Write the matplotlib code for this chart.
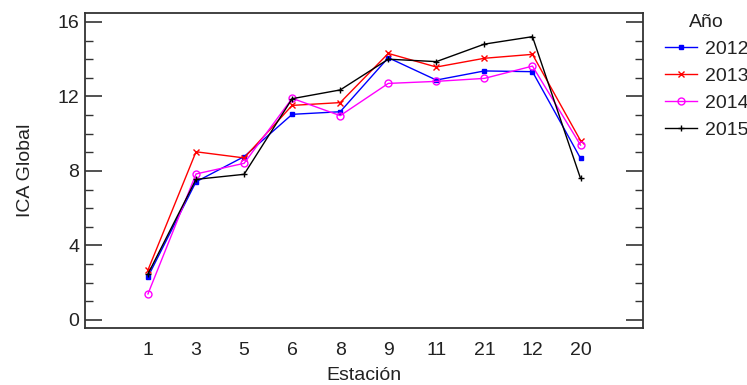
import matplotlib
matplotlib.use("Agg")
import matplotlib.pyplot as plt
from matplotlib.ticker import MultipleLocator

stations = ["1", "3", "5", "6", "8", "9", "11", "21", "12", "20"]
years = ["2012", "2013", "2014", "2015"]
ica_2012 = [2.32, 7.42, 8.77, 11.04, 11.18, 14.08, 12.88, 13.37, 13.33, 8.68]
ica_2013 = [2.68, 9.03, 8.70, 11.52, 11.67, 14.31, 13.58, 14.05, 14.26, 9.63]
ica_2014 = [1.40, 7.84, 8.41, 11.90, 10.97, 12.70, 12.81, 12.97, 13.63, 9.39]
ica_2015 = [2.47, 7.55, 7.82, 11.88, 12.35, 14.00, 13.87, 14.81, 15.21, 7.60]

plt.rcParams['font.family'] = ['Liberation Sans', 'DejaVu Sans']
txt = '#222222'
FS = 14

fig = plt.figure(figsize=(7.47, 3.85), dpi=100)
ax = fig.add_axes([85/747, 1-328/385, (643-85)/747, (328-13)/385])

xs = list(range(len(stations)))
styles = [
    (ica_2012, '#0000FF', dict(marker='s', ms=3.5, mfc='#0000FF', mec='#0000FF')),
    (ica_2013, '#FF0000', dict(marker='x', ms=4.5, mew=1.0)),
    (ica_2014, '#FF00FF', dict(marker='o', ms=5, mfc='none', mec='#FF00FF', mew=1.0)),
    (ica_2015, '#000000', dict(marker='+', ms=5, mew=1.0)),
]
for (vals, col, mk), yr in zip(styles, years):
    ax.plot(xs, vals, color=col, lw=1.0, label=yr, **mk)

ax.set_xlim(-1.31, 10.3)
ax.set_ylim(-0.43, 16.48)
ax.set_xticks(xs)
ax.set_xticklabels(stations, fontsize=FS, color=txt)
ax.tick_params(axis='x', length=0, pad=10)
ax.yaxis.set_major_locator(MultipleLocator(4))
ax.yaxis.set_minor_locator(MultipleLocator(1))
ax.tick_params(axis='y', which='major', direction='in', length=12, width=1.2,
               left=True, right=True, labelsize=FS, labelcolor=txt, pad=4, color='#333333')
ax.tick_params(axis='y', which='minor', direction='in', length=6, width=1.0,
               left=True, right=True, color='#333333')
for s in ax.spines.values():
    s.set_color('#333333')
    s.set_linewidth(1.3)

ax.set_xlabel('Estación', fontsize=FS, color=txt, labelpad=6)
ax.set_ylabel('ICA Global', fontsize=FS, color=txt, labelpad=17)

leg = ax.legend(loc='upper left', bbox_to_anchor=(657/747, 1-6/385),
                bbox_transform=fig.transFigure, frameon=False, fontsize=FS,
                title='Año', title_fontsize=FS, handlelength=1.65,
                labelspacing=0.48, handletextpad=0.4, borderaxespad=0)
for t in leg.get_texts():
    t.set_color(txt)
leg.get_title().set_color(txt)

fig.savefig('out.png', dpi=100)
